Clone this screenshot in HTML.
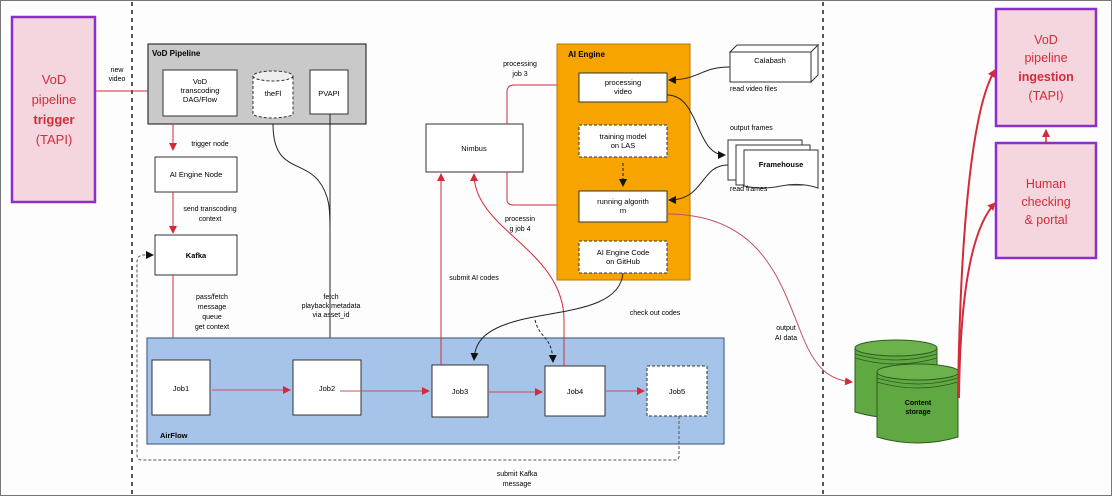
<!DOCTYPE html>
<html><head><meta charset="utf-8"><style>
html,body{margin:0;padding:0;background:#fff}
svg{display:block}
text{font-family:"Liberation Sans",sans-serif;}
</style></head><body>
<svg width="1112" height="496" viewBox="0 0 1112 496" xmlns="http://www.w3.org/2000/svg">
<defs>
<marker id="r" markerWidth="8" markerHeight="8" refX="7" refY="4" orient="auto" markerUnits="userSpaceOnUse"><path d="M0,0 L8,4 L0,8 z" fill="#d42b3a"/></marker>
<marker id="k" markerWidth="8" markerHeight="8" refX="7" refY="4" orient="auto" markerUnits="userSpaceOnUse"><path d="M0,0 L8,4 L0,8 z" fill="#111"/></marker>
</defs>
<rect x="0.5" y="0.5" width="1111" height="495" fill="#fdfdfd" stroke="#777" stroke-width="1"/>
<!-- dashed separators -->
<line x1="132" y1="2" x2="132" y2="494" stroke="#222" stroke-width="1.5" stroke-dasharray="4,4"/>
<line x1="823" y1="2" x2="823" y2="494" stroke="#222" stroke-width="1.5" stroke-dasharray="4,4"/>

<!-- left trigger -->
<rect x="12" y="17" width="83" height="185" fill="#f6d6de" stroke="#8b2fc9" stroke-width="2.5"/>
<g fill="#d42b3a" font-size="13" text-anchor="middle">
<text x="54" y="84">VoD</text><text x="54" y="104">pipeline</text>
<text x="54" y="124" font-weight="bold">trigger</text><text x="54" y="144">(TAPI)</text></g>

<text x="117" y="72" font-size="7" text-anchor="middle">new</text>
<text x="117" y="81" font-size="7" text-anchor="middle">video</text>
<line x1="96" y1="91" x2="160" y2="91" stroke="#d42b3a" marker-end="url(#r)"/>

<!-- VoD pipeline -->
<rect x="148" y="44" width="218" height="80" fill="#c9c9c9" stroke="#333" stroke-width="1.2"/>
<text x="152" y="56" font-size="8" font-weight="bold">VoD Pipeline</text>
<rect x="163" y="70" width="74" height="46" fill="#fff" stroke="#333"/>
<g font-size="7.5" text-anchor="middle"><text x="200" y="84">VoD</text><text x="200" y="93">transcoding</text><text x="200" y="102">DAG/Flow</text></g>
<path d="M253,76 v39 q20,6 40,0 v-39" fill="#fff" stroke="#333" stroke-dasharray="3,2"/>
<ellipse cx="273" cy="76" rx="20" ry="5" fill="#eee" stroke="#333" stroke-dasharray="3,2"/>
<text x="273" y="96" font-size="7.5" text-anchor="middle">theFl</text>
<rect x="310" y="70" width="38" height="44" fill="#fff" stroke="#333"/>
<text x="329" y="96" font-size="7.5" text-anchor="middle">PVAPI</text>

<line x1="173" y1="124" x2="173" y2="150" stroke="#d42b3a" marker-end="url(#r)"/>
<text x="210" y="146" font-size="7" text-anchor="middle">trigger node</text>
<rect x="155" y="157" width="82" height="35" fill="#fff" stroke="#333"/>
<text x="196" y="177" font-size="7.5" text-anchor="middle">AI Engine Node</text>
<line x1="173" y1="192" x2="173" y2="233" stroke="#d42b3a" marker-end="url(#r)"/>
<text x="210" y="211" font-size="7" text-anchor="middle">send transcoding</text>
<text x="210" y="221" font-size="7" text-anchor="middle">context</text>
<rect x="155" y="235" width="82" height="40" fill="#fff" stroke="#333"/>
<text x="196" y="258" font-size="7.5" font-weight="bold" text-anchor="middle">Kafka</text>
<line x1="173" y1="275" x2="173" y2="352" stroke="#d42b3a" marker-end="url(#r)"/>
<g font-size="7" text-anchor="middle"><text x="212" y="299">pass/fetch</text><text x="212" y="309">message</text><text x="212" y="319">queue</text><text x="212" y="329">get context</text></g>

<!-- PVAPI / theFl lines -->
<path d="M273,124 C273,170 300,160 318,180 C330,195 330,210 330,230" fill="none" stroke="#222"/>
<line x1="330" y1="114" x2="330" y2="357" stroke="#222" marker-end="url(#k)"/>
<g font-size="7" text-anchor="middle"><text x="331" y="299">fetch</text><text x="331" y="308">playback metadata</text><text x="331" y="317">via asset_id</text></g>

<!-- AirFlow -->
<rect x="147" y="338" width="577" height="106" fill="#a6c4e9" stroke="#4a6a90" stroke-width="1.2"/>
<text x="160" y="438" font-size="7.5" font-weight="bold">AirFlow</text>
<rect x="152" y="360" width="58" height="55" fill="#fff" stroke="#333"/>
<text x="181" y="391" font-size="7.5" text-anchor="middle">Job1</text>
<rect x="293" y="360" width="68" height="55" fill="#fff" stroke="#333"/>
<text x="327" y="391" font-size="7.5" text-anchor="middle">Job2</text>
<rect x="432" y="365" width="56" height="52" fill="#fff" stroke="#333"/>
<text x="460" y="394" font-size="7.5" text-anchor="middle">Job3</text>
<rect x="545" y="366" width="60" height="50" fill="#fff" stroke="#333"/>
<text x="575" y="394" font-size="7.5" text-anchor="middle">Job4</text>
<rect x="647" y="366" width="60" height="50" fill="#fff" stroke="#333" stroke-dasharray="3,2"/>
<text x="677" y="394" font-size="7.5" text-anchor="middle">Job5</text>
<line x1="212" y1="390" x2="290" y2="390" stroke="#c0535f" marker-end="url(#r)"/>
<line x1="340" y1="391" x2="429" y2="391" stroke="#c0535f" marker-end="url(#r)"/>
<line x1="488" y1="392" x2="542" y2="392" stroke="#c0535f" marker-end="url(#r)"/>
<line x1="605" y1="391" x2="644" y2="391" stroke="#c0535f" marker-end="url(#r)"/>

<!-- kafka loop -->
<path d="M679,416 V456 Q679,460 675,460 H142 Q137,460 137,455 V262 Q137,255 144,255 H153" fill="none" stroke="#555" stroke-dasharray="3,2" marker-end="url(#k)"/>
<text x="517" y="476" font-size="7" text-anchor="middle">submit Kafka</text>
<text x="517" y="486" font-size="7" text-anchor="middle">message</text>

<!-- Nimbus -->
<rect x="426" y="124" width="97" height="48" fill="#fff" stroke="#333"/>
<text x="474" y="151" font-size="7.5" text-anchor="middle">Nimbus</text>
<line x1="441" y1="365" x2="441" y2="174" stroke="#d42b3a" marker-end="url(#r)"/>
<path d="M564,366 V320 C564,250 474,230 474,174" fill="none" stroke="#d42b3a" marker-end="url(#r)"/>
<text x="474" y="280" font-size="7" text-anchor="middle">submit AI codes</text>
<path d="M507,124 V92 Q507,85 514,85 H576" fill="none" stroke="#d42b3a" marker-end="url(#r)"/>
<path d="M507,172 V200 Q507,205 514,205 H576" fill="none" stroke="#d42b3a" marker-end="url(#r)"/>
<text x="520" y="66" font-size="7" text-anchor="middle">processing</text>
<text x="520" y="76" font-size="7" text-anchor="middle">job 3</text>
<text x="520" y="221" font-size="7" text-anchor="middle">processin</text>
<text x="520" y="231" font-size="7" text-anchor="middle">g job 4</text>

<!-- AI Engine -->
<rect x="557" y="44" width="133" height="236" fill="#f7a300" stroke="#b87800"/>
<text x="568" y="57" font-size="8" font-weight="bold">AI Engine</text>
<rect x="579" y="73" width="88" height="29" fill="#fff" stroke="#333"/>
<text x="623" y="85" font-size="7.5" text-anchor="middle">processing</text>
<text x="623" y="94" font-size="7.5" text-anchor="middle">video</text>
<rect x="579" y="125" width="88" height="32" fill="#fff" stroke="#333" stroke-dasharray="3,2"/>
<text x="623" y="139" font-size="7.5" text-anchor="middle">training model</text>
<text x="623" y="148" font-size="7.5" text-anchor="middle">on LAS</text>
<line x1="623" y1="163" x2="623" y2="186" stroke="#222" stroke-dasharray="3,2" marker-end="url(#k)"/>
<rect x="579" y="191" width="88" height="31" fill="#fff" stroke="#333"/>
<text x="623" y="204" font-size="7.5" text-anchor="middle">running algorith</text>
<text x="623" y="213" font-size="7.5" text-anchor="middle">m</text>
<rect x="579" y="241" width="88" height="32" fill="#fff" stroke="#333" stroke-dasharray="3,2"/>
<text x="623" y="255" font-size="7.5" text-anchor="middle">AI Engine Code</text>
<text x="623" y="264" font-size="7.5" text-anchor="middle">on GitHub</text>

<!-- checkout curves -->
<path d="M623,273 C620,310 560,310 520,320 C480,330 475,345 474,360" fill="none" stroke="#222" marker-end="url(#k)"/>
<path d="M535,320 C540,340 552,335 553,362" fill="none" stroke="#222" stroke-dasharray="3,2" marker-end="url(#k)"/>
<text x="655" y="315" font-size="7" text-anchor="middle">check out codes</text>

<!-- Calabash -->
<path d="M730,52 l7,-7 h81 l-7,7 z M811,52 l7,-7 v30 l-7,7 z" fill="#fff" stroke="#333"/>
<rect x="730" y="52" width="81" height="30" fill="#fff" stroke="#333"/>
<text x="770" y="63" font-size="7.5" text-anchor="middle">Calabash</text>
<path d="M730,67 C700,67 700,80 669,80" fill="none" stroke="#222" marker-end="url(#k)"/>
<text x="730" y="91" font-size="7">read video files</text>
<!-- Framehouse -->
<rect x="728" y="140" width="74" height="40" fill="#fff" stroke="#333"/>
<rect x="736" y="145" width="74" height="40" fill="#fff" stroke="#333"/>
<path d="M744,150 H818 V188 Q800,182 781,186 Q762,190 744,186 z" fill="#fff" stroke="#333"/>
<text x="781" y="167" font-size="7.5" font-weight="bold" text-anchor="middle">Framehouse</text>
<path d="M667,95 C700,95 695,155 725,155" fill="none" stroke="#222" marker-end="url(#k)"/>
<text x="730" y="130" font-size="7">output frames</text>
<path d="M728,165 C700,165 705,200 669,200" fill="none" stroke="#222" marker-end="url(#k)"/>
<text x="730" y="191" font-size="7">read frames</text>

<!-- output AI data -->
<path d="M667,214 C760,214 780,280 800,330 C815,370 830,380 852,382" fill="none" stroke="#c0535f" marker-end="url(#r)"/>
<text x="786" y="330" font-size="7" text-anchor="middle">output</text>
<text x="786" y="340" font-size="7" text-anchor="middle">AI data</text>

<!-- green cylinders -->
<path d="M855,348 V412 Q896,424 937,412 V348" fill="#5fa842" stroke="#2d5a1c"/>
<ellipse cx="896" cy="348" rx="41" ry="8" fill="#6cb24c" stroke="#2d5a1c"/>
<path d="M855,354 Q896,366 937,354 M855,358 Q896,370 937,358" fill="none" stroke="#2d5a1c" stroke-width="0.8"/>
<path d="M877,372 V437 Q918,449 958,437 V372" fill="#5fa842" stroke="#2d5a1c"/>
<ellipse cx="918" cy="372" rx="41" ry="8" fill="#6cb24c" stroke="#2d5a1c"/>
<path d="M877,378 Q918,390 958,378 M877,382 Q918,394 958,382" fill="none" stroke="#2d5a1c" stroke-width="0.8"/>
<text x="918" y="405" font-size="7" font-weight="bold" text-anchor="middle">Content</text>
<text x="918" y="414" font-size="7" font-weight="bold" text-anchor="middle">storage</text>

<!-- right boxes -->
<rect x="996" y="9" width="100" height="117" fill="#f6d6de" stroke="#8b2fc9" stroke-width="2.5"/>
<g fill="#d42b3a" font-size="12.5" text-anchor="middle">
<text x="1046" y="44">VoD</text><text x="1046" y="62">pipeline</text>
<text x="1046" y="81" font-weight="bold">ingestion</text><text x="1046" y="100">(TAPI)</text></g>
<rect x="996" y="143" width="100" height="115" fill="#f6d6de" stroke="#8b2fc9" stroke-width="2.5"/>
<g fill="#d42b3a" font-size="12.5" text-anchor="middle">
<text x="1046" y="188">Human</text><text x="1046" y="206">checking</text><text x="1046" y="224">&amp; portal</text></g>
<line x1="1046" y1="143" x2="1046" y2="130" stroke="#d42b3a" stroke-width="1.5" marker-end="url(#r)"/>
<path d="M958,398 C960,250 970,110 995,70" fill="none" stroke="#d42b3a" stroke-width="2" marker-end="url(#r)"/>
<path d="M959,398 C960,300 970,230 995,203" fill="none" stroke="#d42b3a" stroke-width="2" marker-end="url(#r)"/>
</svg>
</body></html>
